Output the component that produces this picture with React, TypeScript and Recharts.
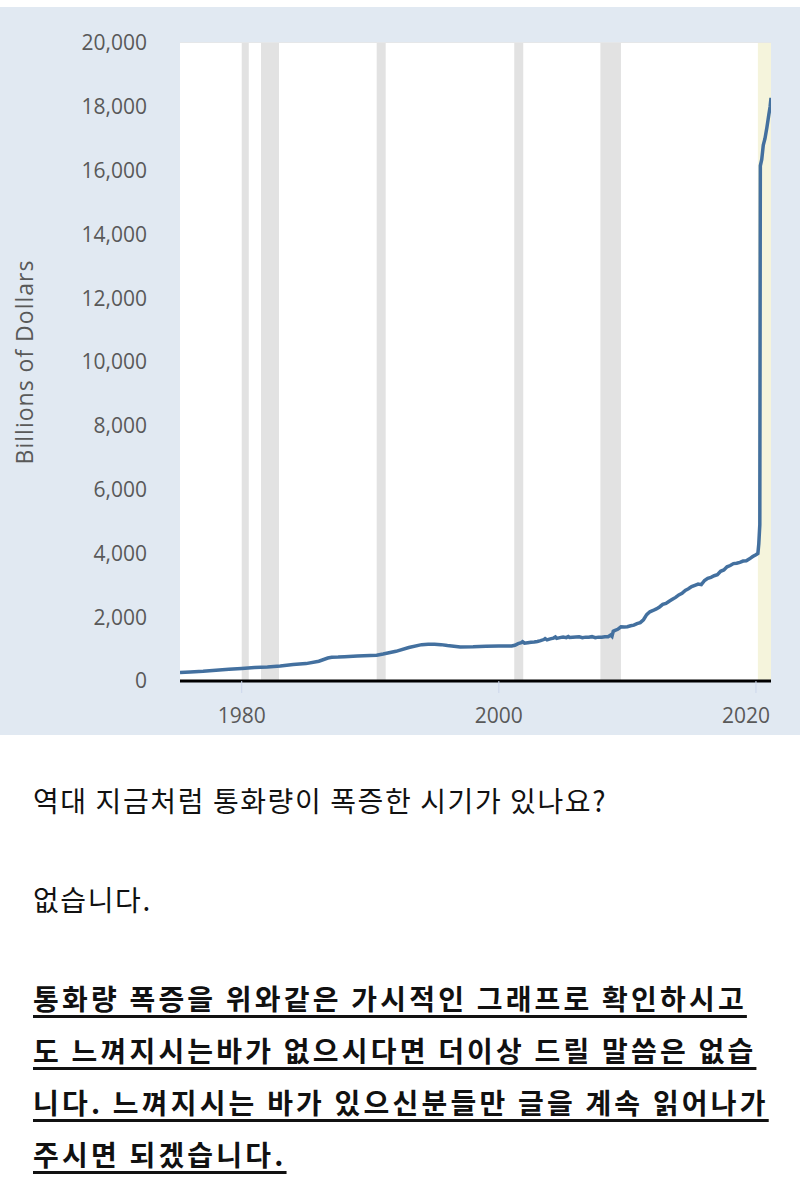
import React from 'react';
import {
  ComposedChart,
  Line,
  XAxis,
  YAxis,
  CartesianGrid,
  ReferenceArea,
} from 'recharts';

// M1 money stock, billions of dollars
const m1Dates = [
  1975.2, 1976, 1977, 1978, 1979, 1980, 1981, 1982, 1983, 1984, 1985, 1986, 1986.7, 1987, 1987.5,
  1988, 1989, 1990, 1990.5, 1991, 1992, 1993, 1994, 1994.5, 1995, 1995.5, 1996, 1997, 1998, 1999,
  2000, 2000.5, 2001, 2001.25, 2001.5, 2001.75, 2001.85, 2002, 2002.25, 2002.5, 2002.75,
  2003, 2003.25, 2003.5, 2003.6, 2003.75, 2004, 2004.25, 2004.4, 2004.5, 2004.75,
  2005, 2005.25, 2005.4, 2005.5, 2005.75, 2006, 2006.25, 2006.5, 2006.75,
  2007, 2007.25, 2007.5, 2007.75, 2008, 2008.25, 2008.5, 2008.7, 2008.8, 2008.9,
  2009, 2009.25, 2009.5, 2009.75, 2010, 2010.25, 2010.5, 2010.75,
  2011, 2011.25, 2011.5, 2011.75, 2012, 2012.25, 2012.5, 2012.75,
  2013, 2013.25, 2013.5, 2013.75, 2014, 2014.25, 2014.5, 2014.75,
  2015, 2015.25, 2015.5, 2015.75, 2016, 2016.25, 2016.5, 2016.75,
  2017, 2017.25, 2017.5, 2017.75, 2018, 2018.25, 2018.5, 2018.75,
  2019, 2019.25, 2019.5, 2019.75, 2020, 2020.15, 2020.22, 2020.3, 2020.34,
  2020.45, 2020.57, 2020.7, 2020.85, 2021, 2021.1, 2021.17,
];
const m1Values = [
  265, 285, 305, 335, 365, 390, 420, 440, 470, 515, 545, 620, 720, 745, 750,
  760, 780, 800, 810, 845, 930, 1050, 1140, 1155, 1150, 1140, 1110, 1065, 1070, 1090,
  1100, 1100, 1095, 1120, 1170, 1200, 1230, 1185, 1200, 1215, 1225,
  1240, 1265, 1300, 1330, 1290, 1320, 1345, 1380, 1335, 1360,
  1375, 1360, 1395, 1365, 1375, 1380, 1385, 1360, 1375,
  1370, 1390, 1360, 1375, 1375, 1390, 1385, 1440, 1400, 1560,
  1580, 1620, 1700, 1690, 1700, 1730, 1750, 1800,
  1830, 1920, 2080, 2170, 2210, 2260, 2320, 2400,
  2430, 2500, 2560, 2620, 2700, 2750, 2840, 2890,
  2960, 3000, 3040, 3020, 3150, 3220, 3250, 3300,
  3330, 3440, 3480, 3580, 3620, 3680, 3690, 3720,
  3760, 3770, 3830, 3900, 3960, 4000, 4300, 4900, 16150,
  16350, 16800, 17000, 17350, 17750, 18000, 18280,
];

// shaded periods [start, end]
const recessionStarts = [1980.0, 1981.5, 1990.5, 2001.2, 2007.9];
const recessionEnds = [1980.55, 1982.9, 1991.2, 2001.9, 2009.5];
const highlightStart = 2020.15;
const highlightEnd = 2021.17;

const yTicks = [0, 2000, 4000, 6000, 8000, 10000, 12000, 14000, 16000, 18000, 20000];
const xTicks = [1980, 2000, 2020];

const data = m1Dates.map((d, i) => ({ date: d, value: m1Values[i] }));

const tickFont = { fontFamily: 'Open Sans, sans-serif', fontSize: 21, fill: '#595959' };

const XTick = (props: any) => {
  const { x, y, payload } = props;
  const atEdge = x + 28 > 771;
  return (
    <text
      x={atEdge ? 770 : x}
      y={y}
      dy="0.71em"
      textAnchor={atEdge ? 'end' : 'middle'}
      {...tickFont}
    >
      {payload.value}
    </text>
  );
};

const lineStyle: React.CSSProperties = {
  position: 'absolute',
  left: 33,
  margin: 0,
  fontFamily: '"Noto Sans CJK KR", sans-serif',
  fontSize: 28,
  lineHeight: '28px',
  letterSpacing: 1.6,
  color: '#111',
  whiteSpace: 'nowrap',
};

const boldLine: React.CSSProperties = {
  ...lineStyle,
  fontWeight: 700,
  letterSpacing: 3.2,
  textDecoration: 'underline',
  textDecorationThickness: 3,
  textUnderlineOffset: 5,
};

export default function App() {
  return (
    <div style={{ position: 'absolute', top: 0, left: 0, width: 800, height: 1192, background: '#fff' }}>
      <div style={{ position: 'absolute', top: 7, left: 0, background: '#e1e9f2' }}>
        <ComposedChart
          width={800}
          height={728}
          data={data}
          margin={{ top: 36, right: 29, bottom: 0, left: 0 }}
        >
          <rect x={180} y={36} width={591} height={638} fill="#fff" />
          <CartesianGrid vertical={false} stroke="#e6e6e6" strokeWidth={1.5} />
          {recessionStarts.map((s, i) => (
            <ReferenceArea
              key={s}
              x1={s}
              x2={recessionEnds[i]}
              fill="#e2e2e2"
              fillOpacity={1}
              stroke="none"
            />
          ))}
          <ReferenceArea x1={highlightStart} x2={highlightEnd} fill="#f5f4dc" fillOpacity={1} stroke="none" />
          <XAxis
            dataKey="date"
            type="number"
            domain={[1975.2, 2021.17]}
            ticks={xTicks}
            height={54}
            axisLine={{ stroke: '#000', strokeWidth: 3 }}
            tickLine={{ stroke: '#ccd6eb' }}
            tickSize={12}
            tickMargin={15}
            tick={<XTick />}
            allowDataOverflow
          />
          <YAxis
            domain={[0, 20000]}
            ticks={yTicks}
            width={180}
            axisLine={false}
            tickLine={false}
            tickSize={0}
            tickMargin={33}
            tick={tickFont}
            tickFormatter={(v: number) => v.toLocaleString('en-US')}
            label={{
              value: 'Billions of Dollars',
              angle: -90,
              position: 'insideLeft',
              offset: 25,
              style: { ...tickFont, fontSize: 23, letterSpacing: 1, textAnchor: 'middle' },
            }}
          />
          <Line
            type="linear"
            dataKey="value"
            stroke="#43709f"
            strokeWidth={3.5}
            dot={false}
            isAnimationActive={false}
          />
        </ComposedChart>
      </div>
      <div style={{ ...lineStyle, top: 786 }}>역대 지금처럼 통화량이 폭증한 시기가 있나요?</div>
      <div style={{ ...lineStyle, top: 885 }}>없습니다.</div>
      <div style={{ ...boldLine, top: 984 }}>통화량 폭증을 위와같은 가시적인 그래프로 확인하시고</div>
      <div style={{ ...boldLine, top: 1036 }}>도 느껴지시는바가 없으시다면 더이상 드릴 말씀은 없습</div>
      <div style={{ ...boldLine, top: 1088 }}>니다. 느껴지시는 바가 있으신분들만 글을 계속 읽어나가</div>
      <div style={{ ...boldLine, top: 1140 }}>주시면 되겠습니다.</div>
    </div>
  );
}
